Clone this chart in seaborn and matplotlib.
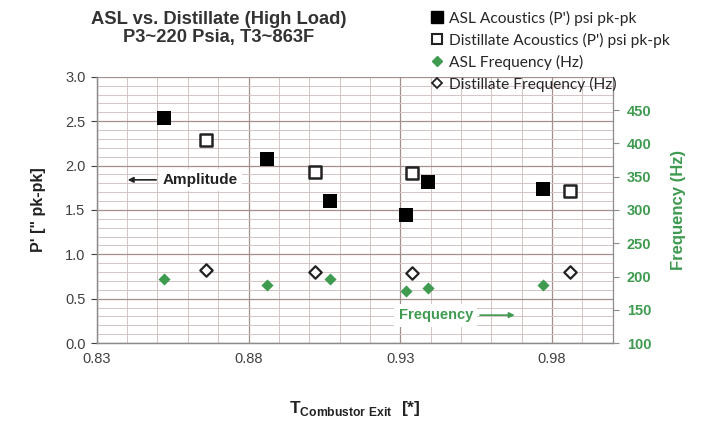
import matplotlib
matplotlib.use("Agg")
import matplotlib.pyplot as plt
from matplotlib.lines import Line2D
from matplotlib.ticker import MultipleLocator, FixedLocator
import numpy as np
import pandas as pd
import seaborn as sns

# ---- data -------------------------------------------------------------
asl_x = [0.852, 0.886, 0.907, 0.932, 0.939, 0.977]
asl_amp = [2.54, 2.07, 1.60, 1.44, 1.81, 1.74]
asl_freq = [196, 187, 196, 178, 183, 187]

dist_x = [0.866, 0.902, 0.934, 0.986]
dist_amp = [2.29, 1.93, 1.92, 1.71]
dist_freq = [210, 207, 205, 207]

x_ticks = [0.83, 0.88, 0.93, 0.98]
amp_ticks = [0.0, 0.5, 1.0, 1.5, 2.0, 2.5, 3.0]
freq_ticks = [100, 150, 200, 250, 300, 350, 400, 450]

series_labels = [
    "ASL Acoustics (P') psi pk-pk",
    "Distillate Acoustics (P') psi pk-pk",
    "ASL Frequency (Hz)",
    "Distillate Frequency (Hz)",
]

asl = pd.DataFrame({"x": asl_x, "amp": asl_amp, "freq": asl_freq})
dist = pd.DataFrame({"x": dist_x, "amp": dist_amp, "freq": dist_freq})

# ---- style ------------------------------------------------------------
sns.set_theme(style="white")
plt.rcParams["font.family"] = ["Liberation Sans", "DejaVu Sans"]
plt.rcParams["mathtext.fontset"] = "custom"
plt.rcParams["mathtext.rm"] = "Liberation Sans"
plt.rcParams["mathtext.bf"] = "Liberation Sans:bold"

GREEN = "#3f9b50"
TICK = "#404040"
GRID_MAJOR = "#a48e8e"
GRID_MINOR = "#d4c4c4"

fig = plt.figure(figsize=(7.06, 4.22), dpi=100)
ax = fig.add_axes([0.137, 0.187, 0.731, 0.631])
ax2 = ax.twinx()

# ---- marks ------------------------------------------------------------
sns.scatterplot(data=asl, x="x", y="amp", ax=ax, marker="s", s=95,
                color="black", edgecolor="black", linewidth=0, zorder=5)
sns.scatterplot(data=dist, x="x", y="amp", ax=ax, marker="s", s=80,
                facecolor="white", edgecolor="#222222", linewidth=1.8, zorder=5)
sns.scatterplot(data=asl, x="x", y="freq", ax=ax2, marker="D", s=38,
                color=GREEN, edgecolor=GREEN, linewidth=0, zorder=5)
sns.scatterplot(data=dist, x="x", y="freq", ax=ax2, marker="D", s=40,
                facecolor="white", edgecolor="#222222", linewidth=1.6, zorder=5)

# ---- axes -------------------------------------------------------------
ax.set_xlim(0.83, 1.0)
ax.set_ylim(0.0, 3.0)
ax2.set_ylim(100, 500)

ax.xaxis.set_major_locator(FixedLocator(x_ticks))
ax.xaxis.set_minor_locator(FixedLocator(np.round(np.arange(0.84, 1.0, 0.01), 3)))
ax.yaxis.set_major_locator(FixedLocator(amp_ticks))
ax.yaxis.set_minor_locator(MultipleLocator(0.1))
ax2.yaxis.set_major_locator(FixedLocator(freq_ticks))

ax.set_xticklabels([f"{v:.2f}" for v in x_ticks])
ax.set_yticklabels([f"{v:.1f}" for v in amp_ticks])
ax2.set_yticklabels([str(v) for v in freq_ticks])

ax.grid(which="major", color=GRID_MAJOR, linewidth=0.9)
ax.grid(which="minor", color=GRID_MINOR, linewidth=0.7)
ax.set_axisbelow(True)

for a in (ax, ax2):
    a.spines["top"].set_visible(False)
    for side in ("left", "right", "bottom"):
        a.spines[side].set_color("#8c8c8c")
        a.spines[side].set_linewidth(0.9)
ax.spines["right"].set_visible(False)

ax.tick_params(axis="both", which="major", labelsize=10.5, colors=TICK,
               length=4, width=0.8, direction="out", pad=4)
ax.tick_params(axis="both", which="minor", length=0)
ax.tick_params(axis="x", which="major", length=5, direction="inout")
ax2.tick_params(axis="y", which="major", labelsize=10.5, colors="#8c8c8c",
                labelcolor=GREEN, length=4, width=0.8, pad=6)
for lbl in ax2.get_yticklabels():
    lbl.set_fontweight("bold")

ax.set_xlabel(r"$\mathbf{T}_{\mathbf{Combustor\ Exit}}$  [*]",
              fontsize=12.5, fontweight="bold", color="#222222", labelpad=24)
ax.set_ylabel("P' [\" pk-pk]", fontsize=11.5, fontweight="bold",
              color="#222222", labelpad=14)
ax2.set_ylabel("Frequency (Hz)", fontsize=12, fontweight="bold",
               color=GREEN, labelpad=14)

# ---- title ------------------------------------------------------------
fig.text(0.31, 0.975, "ASL vs. Distillate (High Load)\nP3~220 Psia, T3~863F",
         ha="center", va="top", fontsize=13.2, fontweight="bold",
         color="#333333", linespacing=1.12)

# ---- callouts ---------------------------------------------------------
ax.annotate("Amplitude", xy=(0.06, 0.613), xytext=(0.128, 0.613),
            xycoords="axes fraction", textcoords="axes fraction",
            ha="left", va="center", fontsize=11, fontweight="bold",
            color="#222222",
            bbox=dict(boxstyle="square,pad=0.25", fc="white", ec="none"),
            arrowprops=dict(arrowstyle="-|>", color="#222222", lw=1.2,
                            shrinkA=2, shrinkB=0, mutation_scale=8),
            zorder=6)
ax.annotate("Frequency", xy=(0.81, 0.105), xytext=(0.585, 0.105),
            xycoords="axes fraction", textcoords="axes fraction",
            ha="left", va="center", fontsize=10.5, fontweight="bold",
            color=GREEN,
            bbox=dict(boxstyle="square,pad=0.3", fc="white", ec="none"),
            arrowprops=dict(arrowstyle="-|>", color=GREEN, lw=1.2,
                            shrinkA=2, shrinkB=0, mutation_scale=8),
            zorder=6)

# ---- legend -----------------------------------------------------------
handles = [
    Line2D([], [], linestyle="none", marker="s", markersize=8,
           markerfacecolor="black", markeredgecolor="black"),
    Line2D([], [], linestyle="none", marker="s", markersize=7.5,
           markerfacecolor="white", markeredgecolor="#222222", markeredgewidth=1.5),
    Line2D([], [], linestyle="none", marker="D", markersize=5.5,
           markerfacecolor=GREEN, markeredgecolor=GREEN),
    Line2D([], [], linestyle="none", marker="D", markersize=5.5,
           markerfacecolor="white", markeredgecolor="#222222", markeredgewidth=1.3),
]
fig.legend(handles, series_labels, loc="upper left",
           bbox_to_anchor=(0.602, 0.99), frameon=False,
           prop={"family": ["Lato", "DejaVu Sans"], "size": 11.2},
           labelcolor="#262626", handlelength=0.8, handletextpad=0.35,
           labelspacing=0.45, borderaxespad=0.0)

fig.savefig("out.png", dpi=100, facecolor="white")
